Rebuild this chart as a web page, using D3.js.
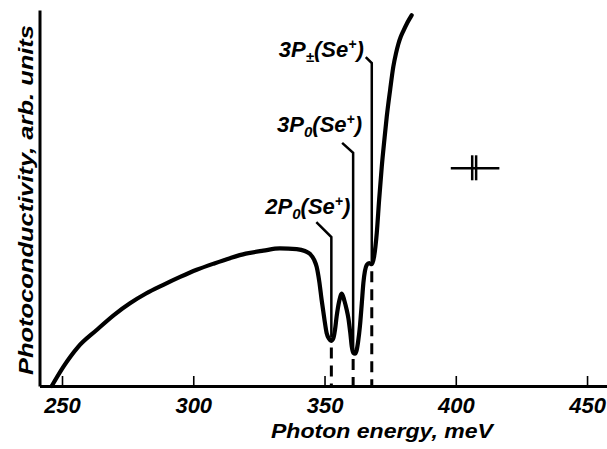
<!DOCTYPE html>
<html>
<head>
<meta charset="utf-8">
<script src="https://cdn.jsdelivr.net/npm/d3@7"></script>
<style>
  html, body { margin: 0; padding: 0; background: #fff; }
  svg { display: block; }
  text { font-family: "Liberation Sans", Arial, sans-serif; font-weight: bold; font-style: italic; fill: #000; }
</style>
</head>
<body>
<svg id="chart" width="607" height="449"></svg>
<script>
// Photoconductivity spectrum (arb. units) versus photon energy (meV)
const energy = [246.1, 250.5, 256.0, 263.2, 270.0, 275.9, 282.0, 288.6, 295.0, 301.3, 308.0, 314.0, 320.0, 326.7, 333.0, 339.4,
  342.5, 344.5, 346.0, 347.0, 348.0, 348.9, 349.9, 350.8, 351.7, 352.5, 353.3, 354.0, 354.6, 355.6, 356.6, 357.6, 358.4, 359.1,
  359.8, 360.4, 361.0, 361.6, 362.2, 362.8, 363.5, 364.2, 364.8, 365.4, 366.1, 367.0, 368.0, 368.9, 369.9, 370.8, 371.8,
  372.8, 373.7, 375.0, 376.2, 377.2, 378.1, 379.0, 380.0, 381.3, 382.6, 383.2];
const signal = [0, 5.1, 10.3, 14.9, 19.0, 22.0, 24.6, 26.9, 29.0, 30.9, 32.6, 34.0, 35.2, 36.0, 36.6, 36.4,
  35.9, 35.1, 33.6, 31.7, 27.8, 22.9, 18.0, 14.1, 12.6, 12.0, 12.6, 15.0, 18.4, 22.6, 24.6, 22.6, 20.4, 18.0,
  14.2, 10.4, 8.8, 8.6, 9.4, 11.8, 16.0, 22.0, 27.4, 30.6, 32.2, 32.7, 32.4, 34.5, 40.7, 49.5, 58.3,
  65.5, 71.6, 78.8, 84.9, 88.4, 90.9, 92.8, 94.4, 96.3, 97.9, 98.6];

// Impurity transitions: level name, subscript, ion, energy (meV)
const lineNames = ["2P", "3P", "3P"];
const lineSubs = ["0", "0", "\u00b1"];
const lineIon = ["Se", "Se", "Se"];
const lineEnergy = [352.6, 360.9, 368.0];
const lineLevel = [39.6, 62.0, 85.9];     // where each leader bends, in signal units

// Spectral resolution bar
const resCenter = 407.0;
const resSpan = [398.1, 416.6];
const resLevel = 57.9;

const xTicks = [250, 300, 350, 400, 450];

const svg = d3.select("#chart");
const x = d3.scaleLinear().domain([241.43, 457.6]).range([39.5, 607]);
const y = d3.scaleLinear().domain([0, 100]).range([386, 10]);

// axes
const xAxis = d3.axisBottom(x).tickValues(xTicks).tickSizeInner(-10).tickSizeOuter(0).tickPadding(11);
const gx = svg.append("g").attr("transform", `translate(0,${y(0)})`).call(xAxis);
gx.select(".domain").attr("stroke", "#000").attr("stroke-width", 3);
gx.selectAll(".tick line").attr("stroke", "#000").attr("stroke-width", 1.6);
gx.selectAll(".tick text").attr("font-size", 22).attr("font-family", null);

const gy = svg.append("g").attr("transform", `translate(${x.range()[0]},0)`)
  .call(d3.axisLeft(y).tickValues([]).tickSizeOuter(0));
gy.select(".domain").attr("stroke", "#000").attr("stroke-width", 3);

// axis titles
svg.append("text")
  .attr("x", 382).attr("y", 438)
  .attr("text-anchor", "middle")
  .attr("font-size", 21)
  .attr("textLength", 222).attr("lengthAdjust", "spacingAndGlyphs")
  .text("Photon energy, meV");

svg.append("text")
  .attr("transform", "translate(33,200) rotate(-90)")
  .attr("text-anchor", "middle")
  .attr("font-size", 21)
  .attr("textLength", 350).attr("lengthAdjust", "spacingAndGlyphs")
  .text("Photoconductivity, arb. units");

// spectrum
const pts = energy.map((e, i) => [e, signal[i]]);
svg.append("path")
  .datum(pts)
  .attr("fill", "none")
  .attr("stroke", "#000")
  .attr("stroke-width", 4.2)
  .attr("stroke-linejoin", "round")
  .attr("stroke-linecap", "round")
  .attr("d", d3.line().x(d => x(d[0])).y(d => y(d[1])).curve(d3.curveMonotoneX));

// value of the spectrum at a given energy (linear between samples)
function signalAt(e) {
  const i = d3.bisectLeft(energy, e);
  if (i <= 0) return signal[0];
  if (i >= energy.length) return signal[signal.length - 1];
  const t = (e - energy[i - 1]) / (energy[i] - energy[i - 1]);
  return signal[i - 1] + t * (signal[i] - signal[i - 1]);
}

// leader geometry per label: diagonal start offset, text end offset, text baseline offset
const leaderDx = [-15, -11, -6];
const leaderDy = [-15, -10, -6];
const textDx = [19, 9, -8];
const textDy = [-8, -11, 0];

lineEnergy.forEach((e, i) => {
  const vx = x(e);
  const knee = y(lineLevel[i]);
  const curveY = y(signalAt(e));
  // solid leader from label down to the curve
  svg.append("path")
    .attr("fill", "none").attr("stroke", "#000").attr("stroke-width", 2.5)
    .attr("d", `M${vx + leaderDx[i]},${knee + leaderDy[i]}L${vx},${knee}L${vx},${curveY - 3}`);
  // dashed marker below the curve
  svg.append("line")
    .attr("x1", vx).attr("x2", vx)
    .attr("y1", curveY + 7).attr("y2", y(0))
    .attr("stroke", "#000").attr("stroke-width", 3)
    .attr("stroke-dasharray", "11,7");
  // label
  const t = svg.append("text")
    .attr("x", vx + textDx[i]).attr("y", knee + leaderDy[i] + textDy[i])
    .attr("text-anchor", "end")
    .attr("font-size", 22);
  t.append("tspan").text(lineNames[i]);
  t.append("tspan").attr("font-size", 15).attr("dy", 5).text(lineSubs[i]);
  t.append("tspan").attr("dy", -5).text("(" + lineIon[i]);
  t.append("tspan").attr("font-size", 14).attr("dy", -8).text("+");
  t.append("tspan").attr("dy", 8).text(")");
});

// resolution marker
svg.append("line")
  .attr("x1", x(resSpan[0])).attr("x2", x(resSpan[1]))
  .attr("y1", y(resLevel)).attr("y2", y(resLevel))
  .attr("stroke", "#000").attr("stroke-width", 2.5);
[-0.75, 0.75].forEach(d => {
  svg.append("line")
    .attr("x1", x(resCenter + d)).attr("x2", x(resCenter + d))
    .attr("y1", y(resLevel) - 13).attr("y2", y(resLevel) + 12)
    .attr("stroke", "#000").attr("stroke-width", 2.5);
});
</script>
</body>
</html>
